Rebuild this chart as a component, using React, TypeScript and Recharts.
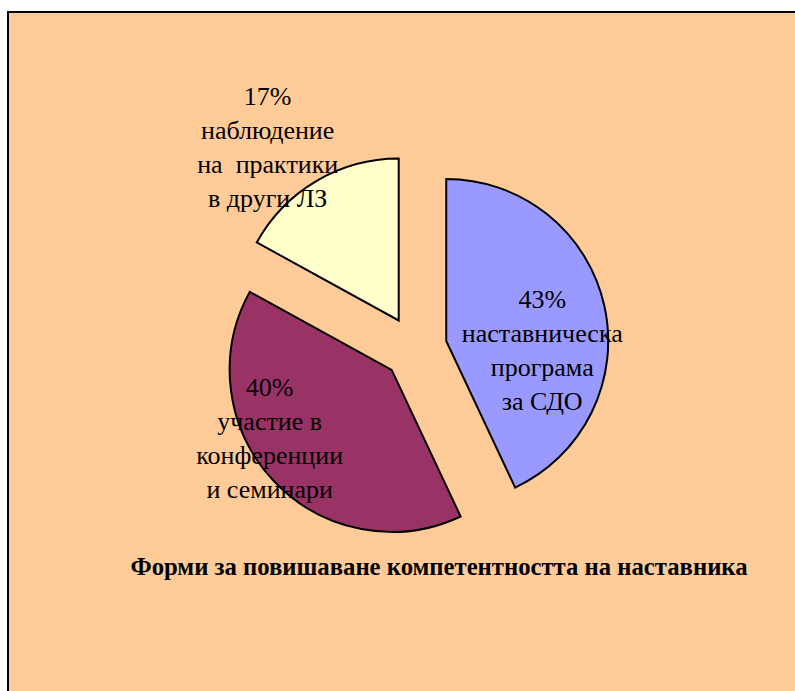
import React from 'react';
import { PieChart, Pie, Cell, Sector } from 'recharts';

// categories (line breaks as in the original labels)
const categories = [
  'наставническа\nпрограма\nза СДО',
  'участие в\nконференции\nи семинари',
  'наблюдение\nна  практики\nв други ЛЗ',
];
const shares = [43, 40, 17];
const title = 'Форми за повишаване компетентността на наставника';

const COLORS = ['#9999FF', '#993366', '#FFFFCC'];
const FONT = 'Liberation Serif, serif';
const RADIAN = Math.PI / 180;
const EXPLODE = 32;
// label block centre, offset from the exploded slice vertex
const LABEL_OFFSETS = [
  { dx: 96, dy: 10 },
  { dx: -122, dy: 69 },
  { dx: -131, dy: -172 },
];
const LINE_H = 34;

const data = categories.map((name, i) => ({ name, value: shares[i] }));

const renderSlice = (props: any) => {
  const { cx, cy, midAngle, outerRadius, startAngle, endAngle, index, percent } = props;
  const ox = cx + EXPLODE * Math.cos(-midAngle * RADIAN);
  const oy = cy + EXPLODE * Math.sin(-midAngle * RADIAN);
  const lines = [`${Math.round(percent * 100)}%`, ...categories[index].split('\n')];
  const off = LABEL_OFFSETS[index];
  const lx = ox + off.dx;
  // first baseline so that the block is centred on the offset point
  const firstBase = oy + off.dy - ((lines.length - 1) * LINE_H) / 2 + 8;
  return (
    <g>
      <Sector
        cx={ox}
        cy={oy}
        innerRadius={0}
        outerRadius={outerRadius}
        startAngle={startAngle}
        endAngle={endAngle}
        fill={COLORS[index]}
        stroke="#000"
        strokeWidth={2}
      />
      <text
        x={lx}
        y={firstBase}
        textAnchor="middle"
        fontFamily={FONT}
        fontSize={26}
        fill="#000"
        style={{ whiteSpace: 'pre', fontFamily: FONT }}
      >
        {lines.map((l, i) => (
          <tspan key={i} x={lx} dy={i === 0 ? 0 : LINE_H}>
            {l}
          </tspan>
        ))}
      </text>
    </g>
  );
};

export default function App() {
  return (
    <>
      <style>{'html,body{margin:0;overflow:hidden}'}</style>
      <div
        style={{
          position: 'absolute',
          left: 7,
          top: 11,
          width: 800,
          height: 700,
          background: '#FFCC99',
          borderTop: '2px solid #000',
          borderLeft: '2px solid #000',
        }}
      >
        <PieChart width={785} height={677}>
          <Pie
            data={data}
            dataKey="value"
            nameKey="name"
            cx={401}
            cy={330}
            outerRadius={162}
            startAngle={90}
            endAngle={-270}
            isAnimationActive={false}
            labelLine={false}
            label={renderSlice}
          >
            {data.map((d, i) => (
              <Cell key={`cell-${i}`} fill="none" stroke="none" />
            ))}
          </Pie>
        </PieChart>
        <div
          style={{
            position: 'absolute',
            left: 0,
            width: 860,
            top: 540,
            textAlign: 'center',
            fontFamily: FONT,
            fontWeight: 'bold',
            fontSize: 24.7,
            whiteSpace: 'nowrap',
          }}
        >
          {title}
        </div>
      </div>
    </>
  );
}
